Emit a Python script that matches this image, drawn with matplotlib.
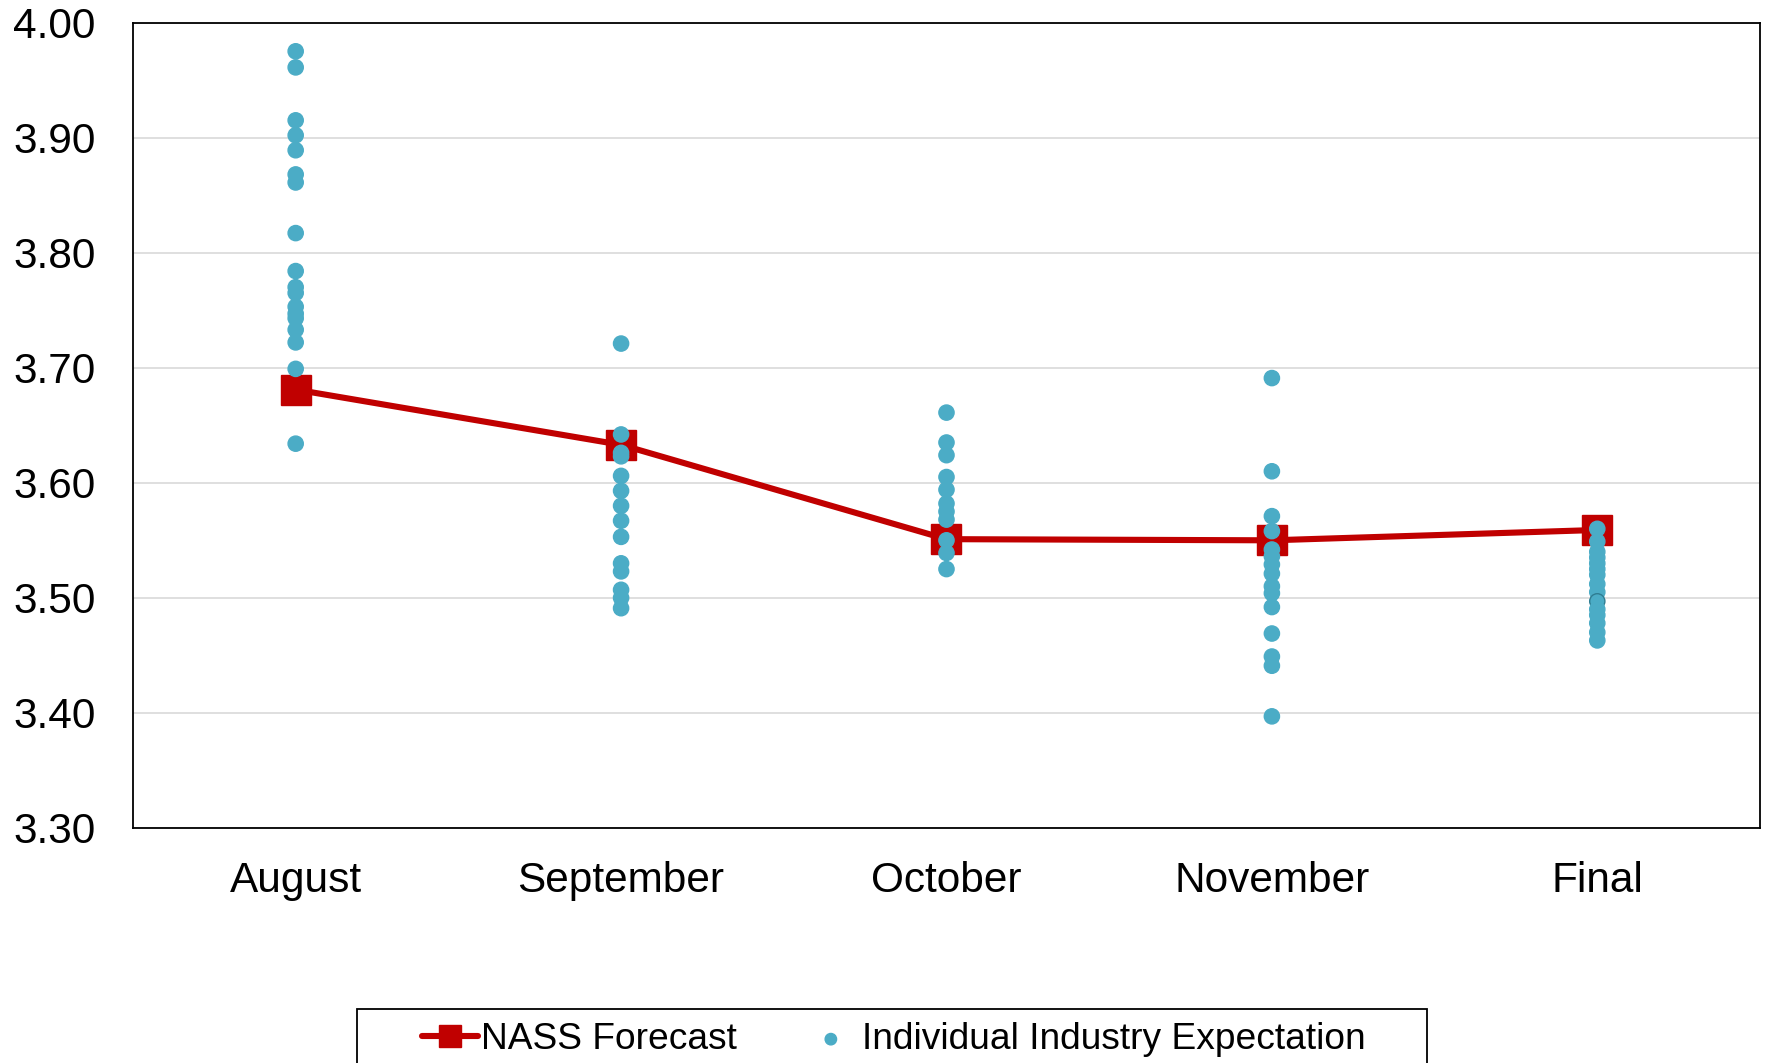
import numpy as np
import matplotlib
matplotlib.use("Agg")
import matplotlib.pyplot as plt
from matplotlib.patches import Rectangle

plt.rcParams['font.family'] = ['Liberation Sans', 'DejaVu Sans']

# Data
months = ["August", "September", "October", "November", "Final"]
nass = [3.681, 3.633, 3.551, 3.550, 3.559]

aug = [3.975, 3.961, 3.915, 3.902, 3.889, 3.868, 3.861, 3.817, 3.784, 3.770,
       3.765, 3.753, 3.747, 3.743, 3.733, 3.722, 3.699, 3.634]
sep = [3.721, 3.642, 3.626, 3.623, 3.606, 3.593, 3.580, 3.567, 3.553, 3.530,
       3.523, 3.507, 3.500, 3.491]
octo = [3.661, 3.635, 3.624, 3.605, 3.594, 3.582, 3.575, 3.568, 3.550, 3.539,
        3.525]
nov = [3.691, 3.610, 3.571, 3.558, 3.542, 3.536, 3.529, 3.521, 3.510, 3.504,
       3.492, 3.469, 3.449, 3.441, 3.397]
fin = [3.560, 3.549, 3.540, 3.535, 3.530, 3.525, 3.520, 3.512, 3.505, 3.497,
       3.490, 3.485, 3.478, 3.470, 3.463]
industry = [aug, sep, octo, nov, fin]

red = "#C00000"
teal = "#4BACC6"

fig = plt.figure(figsize=(17.66, 10.63), dpi=100)
ax = fig.add_axes([0.0753, 0.2211, 0.9213, 0.7577])

x = np.arange(len(months))
ax.plot(x, nass, color=red, lw=4.4, marker="s", ms=22, mfc=red, mec=red,
        solid_capstyle="round", zorder=3, label="NASS Forecast")

for i, vals in enumerate(industry):
    ec = [teal] * len(vals)
    if i == 4:
        ec[9] = "#2E7D92"
    ax.scatter(np.full(len(vals), i), vals, s=120, color=teal, edgecolors=ec,
               linewidths=1.0, zorder=4,
               label="Individual Industry Expectation" if i == 0 else None)

ax.set_xlim(-0.5, 4.5)
ax.set_ylim(3.30, 4.00)
ax.set_yticks(np.arange(3.30, 4.001, 0.10))
ax.yaxis.set_major_formatter(matplotlib.ticker.FormatStrFormatter("%.2f"))
ax.set_xticks(x)
ax.set_xticklabels(months)
ax.tick_params(axis="both", length=0, labelsize=30.5)
ax.tick_params(axis="y", pad=27)
ax.tick_params(axis="x", pad=24)
ax.grid(axis="y", color="#D9D9D9", lw=1.2)
ax.set_axisbelow(True)
for s in ax.spines.values():
    s.set_linewidth(1.3)
    s.set_color("black")

# legend contents, frame drawn separately (runs off the bottom of the figure)
leg = ax.legend(loc="center", bbox_to_anchor=(0.239, 0.0222, 0.5345, 0),
                bbox_transform=fig.transFigure, mode="expand", ncol=2,
                fontsize=26.7, frameon=False, borderaxespad=0, borderpad=0,
                handlelength=1.5, handletextpad=0.1, scatterpoints=1,
                markerscale=0.75)
fig.patches.append(Rectangle((357 / 1766, -0.05), 1070 / 1766, 0.05 + 1 - 1009 / 1063,
                             transform=fig.transFigure, fill=False,
                             edgecolor="black", lw=1.3))

fig.savefig("out.png", dpi=100)
